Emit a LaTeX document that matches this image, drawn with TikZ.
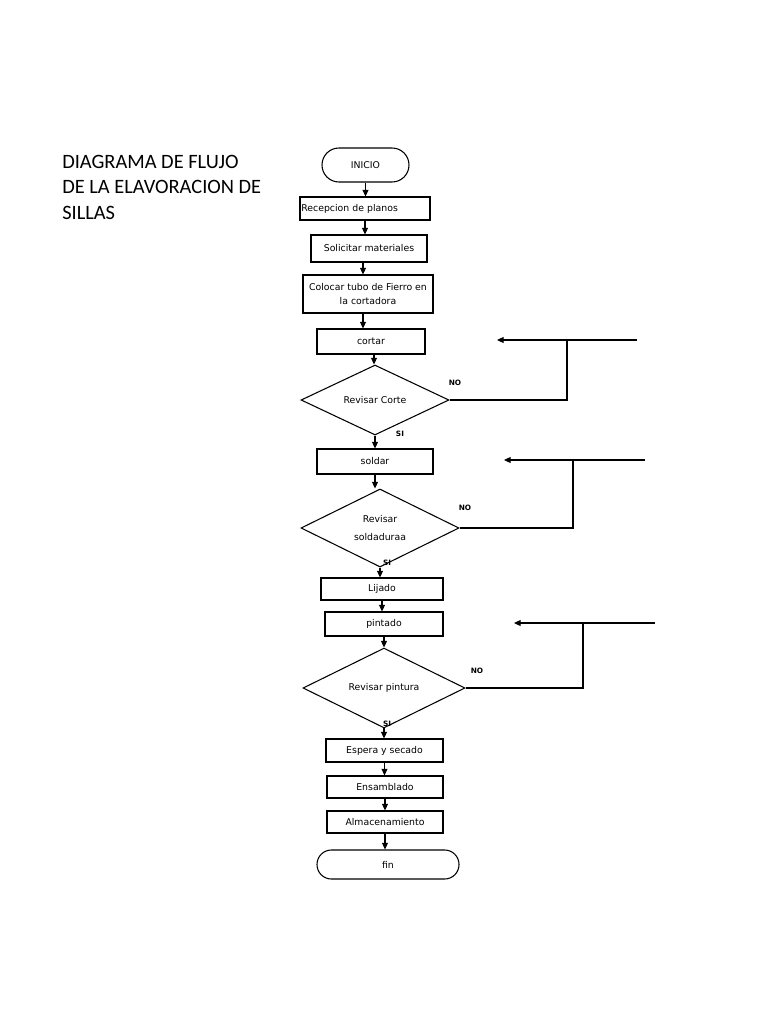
\documentclass[tikz,border=0pt]{standalone}
\usepackage{fontspec}
\setmainfont{DejaVu Sans}
\newfontfamily\titlefont{Carlito}
\usetikzlibrary{shapes.geometric,arrows.meta}
\begin{document}
\begin{tikzpicture}[x=0.75pt,y=-0.75pt,
  box/.style={draw,line width=0.8pt,rectangle,inner sep=1pt,font=\fontsize{7}{10}\selectfont,align=center},
  term/.style={box},
  dec/.style={draw,line width=0.8pt,diamond,inner sep=0pt,font=\fontsize{7}{13}\selectfont,align=center},
  arr/.style={-{Triangle[width=4.5pt,length=5pt]},line width=0.8pt},
  ln/.style={line width=0.8pt},
  lbl/.style={font=\bfseries\fontsize{5.5}{6}\selectfont,inner sep=0pt}
]
\path[use as bounding box] (0,0) rectangle (768,1024);

\node[anchor=north west,inner sep=0pt,align=left,font=\titlefont\fontsize{15.3}{19.1}\selectfont] (title) at (62,155) {DIAGRAMA DE FLUJO\\DE LA ELAVORACION DE\\SILLAS};

\node[term,minimum width=65.25pt,minimum height=25.5pt,rounded corners=12.7pt] (inicio) at (365.5,165) {INICIO};
\node[box,minimum width=97.5pt,minimum height=17.25pt,text width=95.5pt,align=left] (recep) at (365,208.5) {Recepcion de planos};
\node[box,minimum width=87pt,minimum height=20.25pt] (solic) at (369,248.5) {Solicitar materiales};
\node[box,minimum width=97.5pt,minimum height=28.5pt] (coloc) at (368,294) {Colocar tubo de Fierro en\\la cortadora};
\node[box,minimum width=81pt,minimum height=18.75pt] (cortar) at (371,341.5) {cortar};
\node[dec,minimum width=111pt,minimum height=52.5pt] (d1) at (375,400) {Revisar Corte};
\node[box,minimum width=87pt,minimum height=18.75pt] (soldar) at (375,461.5) {soldar};
\node[dec,minimum width=118.5pt,minimum height=58.5pt] (d2) at (380,528) {Revisar\\soldaduraa};
\node[box,minimum width=91.5pt,minimum height=16.5pt] (lijado) at (382,589) {Lijado};
\node[box,minimum width=88.5pt,minimum height=18pt] (pintado) at (384,624) {pintado};
\node[dec,minimum width=121.5pt,minimum height=58.5pt] (d3) at (384,688) {Revisar pintura};
\node[box,minimum width=87.75pt,minimum height=17.25pt] (espera) at (384.5,750.5) {Espera y secado};
\node[box,minimum width=87pt,minimum height=16.5pt] (ensam) at (385,787) {Ensamblado};
\node[box,minimum width=87pt,minimum height=16.5pt] (almac) at (385,822) {Almacenamiento};
\node[term,minimum width=106.5pt,minimum height=21.75pt,rounded corners=10.8pt] (fin) at (388,864.5) {fin};

\draw[arr] (inicio.south) -- (inicio.south |- recep.north);
\draw[arr] (recep.south) -- (recep.south |- solic.north);
\draw[arr] ([xshift=-4.5pt]solic.south) -- ([xshift=-4.5pt]solic.south |- coloc.north);
\draw[arr] ([xshift=-3.75pt]coloc.south) -- ([xshift=-3.75pt]coloc.south |- cortar.north);
\draw[arr] ([xshift=2.25pt]cortar.south) -- ([xshift=2.25pt]cortar.south |- d1.north);
\draw[arr] (d1.south) -- (d1.south |- soldar.north);
\draw[arr] (soldar.south) -- (soldar.south |- d2.north);
\draw[arr] (d2.south) -- (d2.south |- lijado.north);
\draw[arr] (lijado.south) -- (lijado.south |- pintado.north);
\draw[arr] (pintado.south) -- (pintado.south |- d3.north);
\draw[arr] (d3.south) -- (d3.south |- espera.north);
\draw[arr] (espera.south) -- (espera.south |- ensam.north);
\draw[arr] (ensam.south) -- (ensam.south |- almac.north);
\draw[arr] (almac.south) -- (almac.south |- fin.north);

\node[lbl] (no1) at (455,383) {NO};
\node[lbl] (si1) at (400,434) {SI};
\node[lbl] (no2) at (465,508) {NO};
\node[lbl] (si2) at (387,563) {SI};
\node[lbl] (no3) at (477,671) {NO};
\node[lbl] (si3) at (387,724) {SI};

\coordinate (j1) at (567,340); \coordinate (s1) at (637,340); \coordinate (e1) at (497,340);
\coordinate (j2) at (573,460); \coordinate (s2) at (645,460); \coordinate (e2) at (504,460);
\coordinate (j3) at (583,623); \coordinate (s3) at (655,623); \coordinate (e3) at (514,623);
\draw[ln] (d1.east) -| (j1);
\draw[arr] (s1) -- (e1);
\draw[ln] (d2.east) -| (j2);
\draw[arr] (s2) -- (e2);
\draw[ln] (d3.east) -| (j3);
\draw[arr] (s3) -- (e3);
\end{tikzpicture}
\end{document}
